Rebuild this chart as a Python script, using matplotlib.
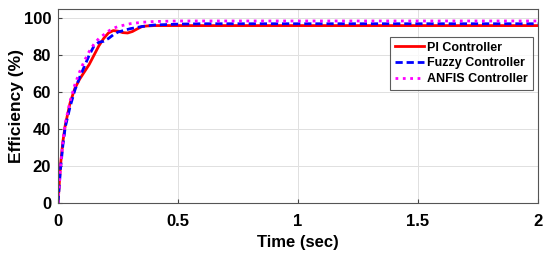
import matplotlib
matplotlib.use('Agg')
import matplotlib.pyplot as plt

# PI controller
t_pi = [0, 0.01, 0.02, 0.03, 0.05, 0.07, 0.09, 0.11, 0.13, 0.15, 0.17, 0.19, 0.21,
        0.23, 0.25, 0.27, 0.29, 0.31, 0.33, 0.35, 0.37, 0.4, 0.5, 1, 2]
eff_pi = [0, 20, 33, 42, 54, 62, 67, 71, 75, 80, 85, 89, 92,
          93.3, 93, 92.2, 92, 92.8, 94.2, 95.5, 95.8, 96, 96, 96, 96]

# Fuzzy controller
t_fuzzy = [0, 0.01, 0.02, 0.03, 0.05, 0.07, 0.09, 0.11, 0.13, 0.15, 0.17, 0.19, 0.21,
           0.23, 0.25, 0.3, 0.35, 0.4, 0.5, 0.6, 1, 2]
eff_fuzzy = [0, 18, 31, 41, 52, 61, 68, 74, 80, 85, 87, 87.5, 89,
             91, 92.5, 94.3, 95.5, 96.3, 96.8, 97, 97, 97]

# ANFIS controller
t_anfis = [0, 0.01, 0.02, 0.03, 0.05, 0.07, 0.09, 0.11, 0.13, 0.15, 0.17, 0.19, 0.21,
           0.23, 0.25, 0.3, 0.35, 0.4, 0.5, 1, 2]
eff_anfis = [0, 19, 33, 43, 55, 64, 71, 77, 82, 86, 89, 91, 93,
             94.5, 95.5, 97, 97.8, 98.2, 98.5, 98.5, 98.5]

xticks = [0, 0.5, 1, 1.5, 2]
xlabels = ['0', '0.5', '1', '1.5', '2']
yticks = [0, 20, 40, 60, 80, 100]

plt.rcParams['font.family'] = ['Liberation Sans', 'DejaVu Sans']
plt.rcParams['font.weight'] = 'bold'

fig = plt.figure(figsize=(5.5, 2.56), dpi=100)
ax = fig.add_axes([0.1055, 0.207, 0.8725, 0.758])

ax.plot(t_pi, eff_pi, '-', color='red', lw=2.0, label='PI Controller')
ax.plot(t_fuzzy, eff_fuzzy, '--', color='blue', lw=2.0, dashes=(2.6, 1.4), label='Fuzzy Controller')
ax.plot(t_anfis, eff_anfis, ':', color='magenta', lw=2.0, label='ANFIS Controller')

ax.set_xlim(0, 2)
ax.set_ylim(0, 105)
ax.set_xticks(xticks)
ax.set_xticklabels(xlabels)
ax.set_yticks(yticks)
ax.tick_params(direction='in', labelsize=12, length=3, color='#444444')
ax.tick_params(axis='x', pad=8)
ax.tick_params(axis='y', pad=5)
for lab in ax.get_xticklabels() + ax.get_yticklabels():
    lab.set_fontweight('bold')
ax.grid(True, color='#e0e0e0', lw=0.7)
for s in ax.spines.values():
    s.set_color('#555555')
    s.set_linewidth(0.8)

ax.set_xlabel('Time (sec)', fontsize=12, fontweight='bold', labelpad=4)
ax.set_ylabel('Efficiency (%)', fontsize=12.5, fontweight='bold', labelpad=0)

leg = ax.legend(loc='upper right', bbox_to_anchor=(0.995, 0.87),
                prop={'weight': 'bold', 'size': 9}, frameon=True, fancybox=False,
                handlelength=2.3, handletextpad=0.3, borderpad=0.4, labelspacing=0.3,
                borderaxespad=0.2)
leg.get_frame().set_edgecolor('#333333')
leg.get_frame().set_linewidth(0.8)

fig.savefig('out.png', dpi=100)
